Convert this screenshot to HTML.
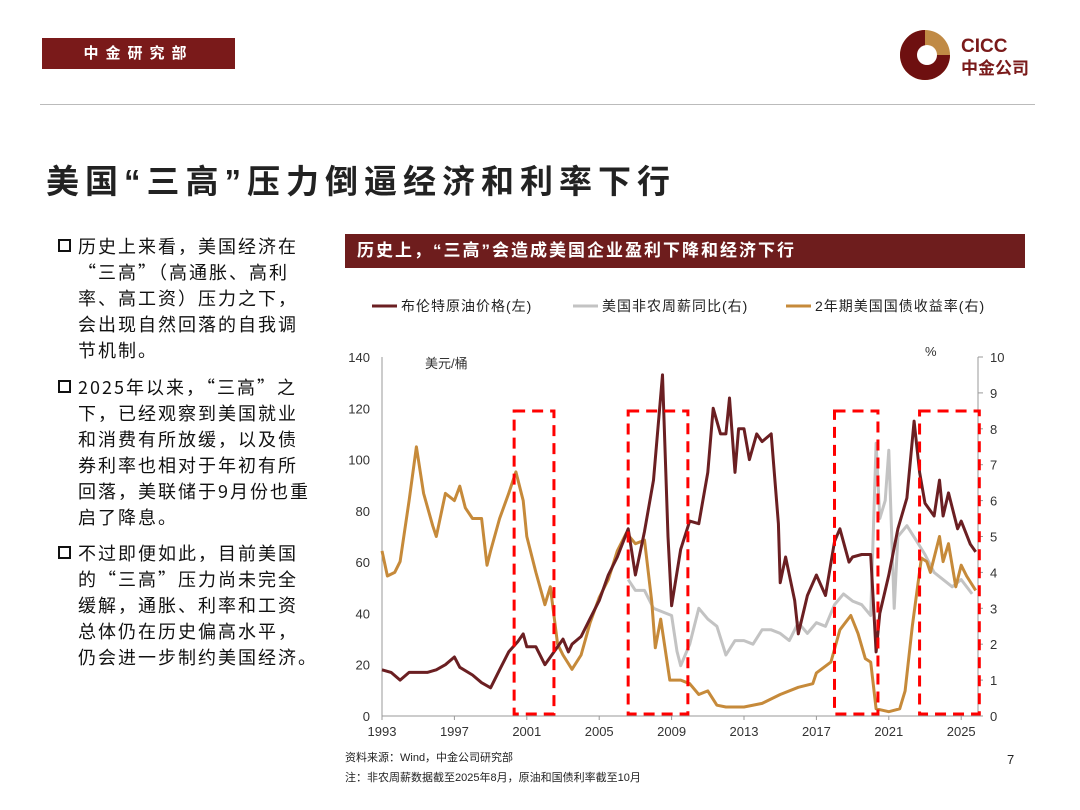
<!DOCTYPE html>
<html><head><meta charset="utf-8">
<style>
body{margin:0;width:1080px;height:810px;background:#fff;position:relative;overflow:hidden;font-family:"Liberation Sans","Noto Sans CJK SC",sans-serif;}
.abs{position:absolute;}
#hdr{left:42px;top:38px;width:193px;height:31px;background:#7a1a1a;color:#fff;font-size:15px;font-weight:bold;letter-spacing:7px;line-height:31px;text-align:center;}
#rule{left:40px;top:104px;width:995px;height:1px;background:#bbb;}
#title{left:46px;top:155px;font-size:33px;font-weight:bold;color:#222;letter-spacing:6px;}
.para{left:60px;width:290px;font-size:18px;line-height:26px;color:#111;letter-spacing:2px;}
.para .b{position:absolute;left:-2px;top:6px;width:9px;height:9px;border:2px solid #111;}
.para span{display:block;margin-left:18px;white-space:nowrap;font-family:"Noto Sans CJK SC","Liberation Sans",sans-serif;}
#bar{left:345px;top:234px;width:680px;height:34px;background:#6e1d1d;color:#fff;font-size:17px;font-weight:bold;line-height:34px;padding-left:12px;box-sizing:border-box;letter-spacing:2px;}
.src{font-size:11px;color:#222;}
</style></head><body>
<div id="hdr" class="abs">中金研究部</div>
<svg class="abs" style="left:895px;top:25px" width="160" height="60">
<circle cx="30" cy="30" r="25" fill="#c08a45"/>
<path d="M30 5 A25 25 0 1 0 55 30 L30 30 Z" fill="#6e1010"/>
<circle cx="32" cy="30" r="10" fill="#fff"/>
<text x="66" y="27" font-size="19" font-weight="bold" fill="#7a1a1a" font-family="Liberation Sans">CICC</text>
<text x="66" y="49" font-size="17" font-weight="bold" fill="#7a1a1a" font-family="Noto Sans CJK SC">中金公司</text>
</svg>
<div id="rule" class="abs"></div>
<div id="title" class="abs">美国“三高”压力倒逼经济和利率下行</div>
<div class="abs para" style="top:233px"><div class="b"></div><span>历史上来看，美国经济在<br>“三高”（高通胀、高利<br>率、高工资）压力之下，<br>会出现自然回落的自我调<br>节机制。</span></div>
<div class="abs para" style="top:374px"><div class="b"></div><span>2025年以来，“三高”之<br>下，已经观察到美国就业<br>和消费有所放缓，以及债<br>券利率也相对于年初有所<br>回落，美联储于9月份也重<br>启了降息。</span></div>
<div class="abs para" style="top:540px"><div class="b"></div><span>不过即便如此，目前美国<br>的“三高”压力尚未完全<br>缓解，通胀、利率和工资<br>总体仍在历史偏高水平，<br>仍会进一步制约美国经济。</span></div>
<div id="bar" class="abs">历史上，“三高”会造成美国企业盈利下降和经济下行</div>
<svg id="chart" class="abs" style="left:0;top:0" width="1080" height="810"></svg>
<div class="abs src" style="left:345px;top:749px">资料来源：Wind，中金公司研究部</div>
<div class="abs src" style="left:345px;top:769px">注：非农周薪数据截至2025年8月，原油和国债利率截至10月</div>
<div class="abs" style="left:1007px;top:752px;font-size:13px;color:#222">7</div>
<script>
const oilT=[1993,1993.5,1994,1994.5,1995,1995.5,1996,1996.5,1997,1997.3,1998,1998.5,1999,1999.5,2000,2000.5,2000.8,2001,2001.5,2002,2002.5,2003,2003.3,2003.5,2004,2004.5,2005,2005.5,2006,2006.6,2007,2007.5,2008,2008.5,2008.8,2009,2009.5,2010,2010.5,2011,2011.3,2011.7,2012,2012.2,2012.5,2012.7,2013,2013.3,2013.7,2014,2014.5,2014.9,2015,2015.3,2015.8,2016,2016.5,2017,2017.5,2018,2018.3,2018.8,2019,2019.5,2020,2020.3,2020.5,2021,2021.5,2022,2022.4,2022.7,2023,2023.5,2023.8,2024,2024.3,2024.8,2025,2025.5,2025.8];
const oilV=[18,17,14,17,17,17,18,20,23,19,16,13,11,18,25,29,32,27,27,20,25,30,25,28,31,38,45,55,62,73,55,72,92,133,70,43,65,76,75,95,120,110,110,124,95,112,112,100,110,107,110,75,52,62,45,32,47,55,47,68,73,60,62,63,63,25,40,55,73,85,115,95,83,78,92,78,87,73,76,67,64];
const wageT=[2006.6,2007,2007.5,2008,2008.5,2009,2009.3,2009.5,2010,2010.5,2011,2011.5,2012,2012.5,2013,2013.5,2014,2014.5,2015,2015.5,2016,2016.5,2017,2017.5,2018,2018.5,2019,2019.5,2020,2020.3,2020.5,2020.8,2021,2021.3,2021.5,2022,2022.5,2023,2023.5,2024,2024.5,2025,2025.6];
const wageV=[3.8,3.5,3.5,3.0,2.9,2.8,1.8,1.4,2.0,3.0,2.7,2.5,1.7,2.1,2.1,2.0,2.4,2.4,2.3,2.1,2.6,2.3,2.6,2.5,3.1,3.4,3.2,3.1,2.8,7.6,5.5,6.0,7.4,3.0,5.0,5.3,4.9,4.5,4.0,3.8,3.6,3.8,3.4];
const ylT=[1993,1993.3,1993.7,1994,1994.5,1994.9,1995.3,1995.8,1996,1996.5,1997,1997.3,1997.6,1998,1998.5,1998.8,1999,1999.5,2000,2000.4,2000.8,2001,2001.5,2002,2002.3,2002.7,2003,2003.5,2004,2004.5,2005,2005.5,2006,2006.5,2007,2007.5,2007.9,2008.1,2008.4,2008.9,2009.5,2010,2010.5,2011,2011.5,2012,2013,2014,2015,2016,2016.8,2017,2017.8,2018.3,2018.9,2019.3,2019.7,2020,2020.3,2021,2021.6,2021.9,2022.3,2022.8,2023.1,2023.3,2023.8,2024,2024.3,2024.7,2025,2025.3,2025.8];
const ylV=[4.6,3.9,4.0,4.3,6.0,7.5,6.2,5.3,5.0,6.2,6.0,6.4,5.8,5.5,5.5,4.2,4.6,5.5,6.2,6.8,6.0,5.0,4.0,3.1,3.6,2.0,1.7,1.3,1.7,2.6,3.3,3.8,4.6,5.1,4.8,4.9,3.2,1.9,2.7,1.0,1.0,0.9,0.6,0.7,0.3,0.25,0.25,0.35,0.6,0.8,0.9,1.2,1.5,2.4,2.8,2.3,1.6,1.5,0.2,0.12,0.2,0.7,2.5,4.4,4.3,4.0,5.0,4.3,4.8,3.6,4.2,3.9,3.5];
const boxes=[[2000.3,2002.5],[2006.6,2009.9],[2018.0,2020.4],[2022.7,2026.0]];
const yearTicks=[1993,1997,2001,2005,2009,2013,2017,2021,2025];
const leftTicks=[0,20,40,60,80,100,120,140];
const rightTicks=[0,1,2,3,4,5,6,7,8,9,10];
const NS='http://www.w3.org/2000/svg';
const svg=document.getElementById('chart');
const X=t=>382+(t-1993)*18.1;
const YL=v=>716-v*359/140;
const YR=v=>716-v*35.9;
function mk(tag,a){const e=document.createElementNS(NS,tag);for(const k in a)e.setAttribute(k,a[k]);svg.appendChild(e);return e;}
let ax=mk('line',{x1:382,y1:357,x2:382,y2:716,stroke:'#999'});


ax=mk('line',{x1:382,y1:716,x2:978,y2:716,stroke:'#999'});


ax=mk('line',{x1:978,y1:357,x2:978,y2:716,stroke:'#999'});


leftTicks.forEach(v=>{const t=mk('text',{x:370,y:YL(v)+5,'text-anchor':'end','font-size':13,fill:'#333'});t.textContent=v;

});
rightTicks.forEach(v=>{mk('line',{x1:978,x2:983,y1:YR(v),y2:YR(v),stroke:'#999'});const t=mk('text',{x:990,y:YR(v)+5,'font-size':13,fill:'#333'});t.textContent=v;

});
yearTicks.forEach(v=>{mk('line',{x1:X(v),x2:X(v),y1:716,y2:720,stroke:'#999'});const t=mk('text',{x:X(v),y:736,'text-anchor':'middle','font-size':13,fill:'#333'});t.textContent=v;

});
let u=mk('text',{x:425,y:368,'font-size':13,fill:'#333'});u.textContent='美元/桶';


u=mk('text',{x:925,y:356,'font-size':13,fill:'#333'});u.textContent='%';


function line(T,V,Y,col,name){const d=T.map((t,i)=>(i?'L':'M')+X(t).toFixed(1)+' '+Y(V[i]).toFixed(1)).join(' ');const p=mk('path',{d:d,fill:'none',stroke:col,'stroke-width':3,'stroke-linejoin':'round'});

}
line(wageT,wageV,YR,'#c3c3c3','wage-growth-line');
line(ylT,ylV,YR,'#c68a3a','2y-yield-line');
line(oilT,oilV,YL,'#6b1f22','brent-oil-line');
boxes.forEach(b=>{const r=mk('rect',{x:X(b[0]),y:411,width:X(b[1])-X(b[0]),height:303,fill:'none',stroke:'#f00','stroke-width':3,'stroke-dasharray':'11 7'});

});
const leg=[['布伦特原油价格(左)','#6b1f22',372],['美国非农周薪同比(右)','#c3c3c3',573],['2年期美国国债收益率(右)','#c68a3a',786]];
leg.forEach(l=>{const g=mk('line',{x1:l[2],x2:l[2]+25,y1:306,y2:306,stroke:l[1],'stroke-width':3});


const t=mk('text',{x:l[2]+29,y:311,'font-size':14,fill:'#222','letter-spacing':1});t.textContent=l[0];

});
</script>
</body></html>
